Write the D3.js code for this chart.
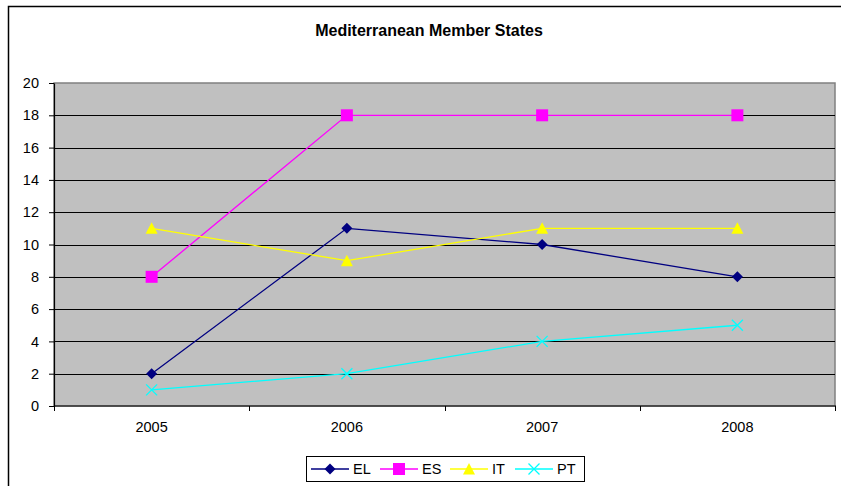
<!DOCTYPE html>
<html lang="en">
<head>
  <meta charset="UTF-8">
  <title>Mediterranean Member States</title>
  <style>
  body { margin: 0; background: white; }
  svg { display: block; font-family: Arial, "Liberation Sans", sans-serif; }
  </style>
</head>
<body>
  <script src="https://d3js.org/d3.v7.min.js"></script>
  <script>

  var years = ['2005', '2006', '2007', '2008'];
  var seriesNames = ['EL', 'ES', 'IT', 'PT'];
  var elValues = [2, 11, 10, 8];
  var esValues = [8, 18, 18, 18];
  var itValues = [11, 9, 11, 11];
  var ptValues = [1, 2, 4, 5];
  var yTicks = [0, 2, 4, 6, 8, 10, 12, 14, 16, 18, 20];

  var colors = { EL: '#000080', ES: '#ff00ff', IT: '#ffff00', PT: '#00ffff' };
  var markers = { EL: 'diamond', ES: 'square', IT: 'triangle', PT: 'cross' };
  var series = [
    { name: 'EL', values: elValues },
    { name: 'ES', values: esValues },
    { name: 'IT', values: itValues },
    { name: 'PT', values: ptValues }
  ];

  var width = 841, height = 486;
  var plot = { left: 54, top: 83, right: 835, bottom: 406 };
  var labelSize = 14.5;

  var svg = d3.select('body').append('svg')
              .attr('width', width)
              .attr('height', height);

  // outer chart frame (right and bottom edges fall outside the picture)
  svg.append('rect')
     .attr('x', 8.5).attr('y', 6.5)
     .attr('width', 900).attr('height', 600)
     .attr('fill', 'white')
     .attr('stroke', 'black')
     .attr('stroke-width', 1.5);

  svg.append('text')
     .attr('x', 429).attr('y', 36)
     .attr('text-anchor', 'middle')
     .attr('font-size', 16)
     .attr('font-weight', 'bold')
     .text('Mediterranean Member States');

  var x = d3.scaleBand().domain(years).range([plot.left, plot.right]);
  var y = d3.scaleLinear().domain([0, 20]).range([plot.bottom, plot.top]);

  svg.append('rect')
     .attr('x', plot.left).attr('y', plot.top)
     .attr('width', plot.right - plot.left)
     .attr('height', plot.bottom - plot.top)
     .attr('fill', '#c0c0c0')
     .attr('stroke', '#808080')
     .attr('stroke-width', 1.5);

  // gridlines
  svg.append('g')
     .selectAll('line')
     .data(yTicks.filter(function (d) { return d > 0 && d < 20; }))
     .enter()
     .append('line')
     .attr('x1', plot.left).attr('x2', plot.right)
     .attr('y1', function (d) { return Math.round(y(d)) + 0.5; })
     .attr('y2', function (d) { return Math.round(y(d)) + 0.5; })
     .attr('stroke', 'black')
     .attr('stroke-width', 1);

  // y axis
  var yAxis = svg.append('g')
                 .attr('transform', 'translate(' + plot.left + ',0)')
                 .call(d3.axisLeft(y).tickValues(yTicks).tickSize(5).tickSizeOuter(0).tickPadding(10));
  yAxis.select('.domain').attr('stroke', 'black').attr('stroke-width', 1.2);
  yAxis.selectAll('.tick line').attr('stroke', 'black');
  yAxis.selectAll('.tick text')
       .attr('font-size', labelSize)
       .attr('font-family', 'Arial, "Liberation Sans", sans-serif')
       .attr('fill', 'black');

  // x axis with ticks between categories
  svg.append('line')
     .attr('x1', plot.left).attr('x2', plot.right + 1)
     .attr('y1', plot.bottom).attr('y2', plot.bottom)
     .attr('stroke', 'black').attr('stroke-width', 1.2);
  var edges = years.map(function (d) { return x(d); }).concat([x(years[years.length - 1]) + x.bandwidth()]);
  svg.append('g')
     .selectAll('line')
     .data(edges)
     .enter()
     .append('line')
     .attr('x1', function (d) { return Math.round(d) + 0.5; })
     .attr('x2', function (d) { return Math.round(d) + 0.5; })
     .attr('y1', plot.bottom).attr('y2', plot.bottom + 5)
     .attr('stroke', 'black');
  svg.append('g')
     .selectAll('text')
     .data(years)
     .enter()
     .append('text')
     .attr('x', function (d) { return x(d) + x.bandwidth() / 2; })
     .attr('y', 432)
     .attr('text-anchor', 'middle')
     .attr('font-size', labelSize)
     .text(function (d) { return d; });

  function drawMarker(g, type, color) {
    if (type === 'diamond') {
      g.append('path').attr('d', 'M0,-5.5L5.5,0L0,5.5L-5.5,0Z').attr('fill', color);
    } else if (type === 'square') {
      g.append('rect').attr('x', -6).attr('y', -6).attr('width', 12).attr('height', 12).attr('fill', color);
    } else if (type === 'triangle') {
      g.append('path').attr('d', 'M0,-6L6,5.5L-6,5.5Z').attr('fill', color);
    } else {
      g.append('path').attr('d', 'M-5.5,-5.5L5.5,5.5M-5.5,5.5L5.5,-5.5').attr('stroke', color).attr('stroke-width', 1.3).attr('fill', 'none');
    }
  }

  var line = d3.line()
               .x(function (d, i) { return x(years[i]) + x.bandwidth() / 2; })
               .y(function (d) { return y(d); });

  series.forEach(function (s) {
    svg.append('path')
       .datum(s.values)
       .attr('d', line)
       .attr('fill', 'none')
       .attr('stroke', colors[s.name])
       .attr('stroke-width', 1.3);
    s.values.forEach(function (v, i) {
      var g = svg.append('g')
                 .attr('transform', 'translate(' + (x(years[i]) + x.bandwidth() / 2) + ',' + y(v) + ')');
      drawMarker(g, markers[s.name], colors[s.name]);
    });
  });

  // legend
  var legend = svg.append('g');
  legend.append('rect')
        .attr('x', 306.5).attr('y', 456.5)
        .attr('width', 278).attr('height', 25)
        .attr('fill', 'white')
        .attr('stroke', 'black');
  var legendX = [311, 380, 450, 515];
  seriesNames.forEach(function (name, i) {
    var lx = legendX[i];
    legend.append('line')
          .attr('x1', lx).attr('x2', lx + 38)
          .attr('y1', 469).attr('y2', 469)
          .attr('stroke', colors[name]).attr('stroke-width', 1.3);
    var g = legend.append('g').attr('transform', 'translate(' + (lx + 19) + ',469)');
    drawMarker(g, markers[name], colors[name]);
    legend.append('text')
          .attr('x', lx + 42).attr('y', 474)
          .attr('font-size', labelSize)
          .text(name);
  });
  </script>
</body>
</html>
